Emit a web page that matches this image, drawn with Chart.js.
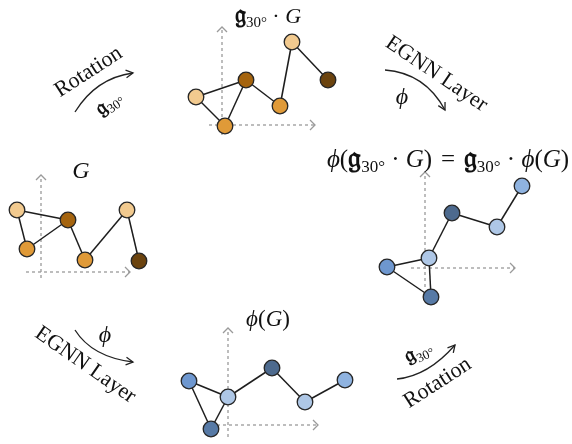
<!DOCTYPE html>
<html>
<head>
<meta charset="utf-8">
<script src="https://cdn.jsdelivr.net/npm/chart.js@4"></script>
<style>
  html, body { margin: 0; padding: 0; background: #fff; }
  #wrap { position: relative; width: 572px; height: 444px; overflow: hidden; }
  #c { position: absolute; left: 0; top: 0; }
  .lbl { position: absolute; transform-origin: center center; white-space: nowrap;
         font-family: "Liberation Serif", "DejaVu Serif", serif; color: #111; line-height: 1; }
  .it { font-style: italic; }
  .frak { font-family: "DejaVu Sans", "DejaVu Serif", "Noto Sans", serif; font-style: normal; font-weight: bold; font-size: 1.15em; }
  .sub { font-size: 0.68em; position: relative; top: 0.3em; }
  .op { margin: 0 0.25em; }
  .eq { margin: 0 0.35em; }
</style>
</head>
<body>
<div id="wrap">
  <canvas id="c" width="572" height="444"></canvas>
</div>
<script>
// ---- data: node coordinates of each graph ----
const graphG_x      = [17, 68, 27, 85, 127, 139];
const graphG_y      = [210, 220, 249, 260, 210, 261];
const graphRotG_x   = [196, 246, 225, 280, 292, 328];
const graphRotG_y   = [97, 80, 126, 106, 42, 80];
const graphPhiG_x   = [189, 228, 211, 272, 305, 345];
const graphPhiG_y   = [381, 397, 429, 368, 402, 380];
const graphPhiRot_x = [387, 429, 431, 452, 497, 522];
const graphPhiRot_y = [267, 258, 297, 213, 227, 186];
// edges (node index pairs), same topology in every graph
const edges = [[0,1],[0,2],[2,1],[1,3],[3,4],[4,5]];
// axis frames: [originX, originY, xStart, xEnd, yStart, yEnd]
const axisG      = [41, 272, 26, 130, 278, 175];
const axisRotG   = [222, 125, 209, 315, 135, 27];
const axisPhiG   = [228, 425, 217, 318, 437, 328];
const axisPhiRot = [425, 268, 411, 515, 287, 172];

// ---- styles ----
const orangeCols = ['#F2CA8F', '#A5640E', '#E09A38', '#E09A38', '#F2CA8F', '#6B430E'];
const blueCols   = ['#6E97CF', '#AEC7E6', '#577AA6', '#4D6A8E', '#AEC7E6', '#8FB3E0'];

function pts(xs, ys) { return xs.map((x, i) => ({x: x, y: ys[i]})); }

const graphs = [
  [graphG_x, graphG_y, orangeCols],
  [graphRotG_x, graphRotG_y, orangeCols],
  [graphPhiG_x, graphPhiG_y, blueCols],
  [graphPhiRot_x, graphPhiRot_y, blueCols]
];
const axes = [axisG, axisRotG, axisPhiG, axisPhiRot];

const datasets = [];
axes.forEach(a => {
  datasets.push({
    data: [{x: a[2], y: a[1]}, {x: a[3], y: a[1]}], showLine: true, borderColor: '#9a9a9a', borderWidth: 1.3,
    borderDash: [3, 3], pointRadius: 0, order: 3, clip: false
  });
  datasets.push({
    data: [{x: a[0], y: a[4]}, {x: a[0], y: a[5]}], showLine: true, borderColor: '#9a9a9a', borderWidth: 1.3,
    borderDash: [3, 3], pointRadius: 0, order: 3, clip: false
  });
});
graphs.forEach(([xs, ys]) => edges.forEach(([a, b]) => datasets.push({
  data: [{x: xs[a], y: ys[a]}, {x: xs[b], y: ys[b]}], showLine: true, borderColor: '#1e1e1e', borderWidth: 1.5,
  pointRadius: 0, order: 2, clip: false
})));
graphs.forEach(([xs, ys, cols]) => datasets.push({
  data: pts(xs, ys), showLine: false, pointRadius: 7.8, pointHoverRadius: 7.8,
  pointBackgroundColor: cols, pointBorderColor: '#262626', pointBorderWidth: 1.3, order: 1, clip: false
}));

// curved transformation arrows: [x0,y0, cx,cy, x1,y1]
const curves = [
  [75, 112, 96, 78, 133, 73],
  [385, 70, 425, 73, 445, 110],
  [75, 330, 92, 357, 133, 362],
  [397, 379, 428, 376, 455, 345]
];

const arrowPlugin = {
  id: 'arrows',
  afterDatasetsDraw(chart) {
    const ctx = chart.ctx, sx = chart.scales.x, sy = chart.scales.y;
    const P = (x, y) => [sx.getPixelForValue(x), sy.getPixelForValue(y)];
    ctx.save();
    ctx.strokeStyle = '#9a9a9a'; ctx.lineWidth = 1.3; ctx.setLineDash([]);
    axes.forEach(a => {
      const [hx, hy] = P(a[3], a[1]);
      ctx.beginPath(); ctx.moveTo(hx - 5, hy - 5); ctx.lineTo(hx, hy); ctx.lineTo(hx - 5, hy + 5); ctx.stroke();
      const [vx, vy] = P(a[0], a[5]);
      ctx.beginPath(); ctx.moveTo(vx - 5, vy + 5); ctx.lineTo(vx, vy); ctx.lineTo(vx + 5, vy + 5); ctx.stroke();
    });
    ctx.strokeStyle = '#222'; ctx.lineWidth = 1.3;
    curves.forEach(c => {
      const [x0, y0] = P(c[0], c[1]), [cx, cy] = P(c[2], c[3]), [x1, y1] = P(c[4], c[5]);
      ctx.beginPath(); ctx.moveTo(x0, y0); ctx.quadraticCurveTo(cx, cy, x1, y1); ctx.stroke();
      const ang = Math.atan2(y1 - cy, x1 - cx), L = 8, w = 0.5;
      ctx.beginPath();
      ctx.moveTo(x1 - L * Math.cos(ang - w), y1 - L * Math.sin(ang - w));
      ctx.lineTo(x1, y1);
      ctx.lineTo(x1 - L * Math.cos(ang + w), y1 - L * Math.sin(ang + w));
      ctx.stroke();
    });
    ctx.restore();
  }
};

new Chart(document.getElementById('c'), {
  type: 'scatter',
  data: { datasets },
  options: {
    responsive: false, animation: false, events: [],
    layout: { padding: 0, autoPadding: false },
    plugins: { legend: { display: false }, tooltip: { enabled: false } },
    scales: {
      x: { type: 'linear', min: 0, max: 572, display: false },
      y: { type: 'linear', min: 0, max: 444, reverse: true, display: false }
    }
  },
  plugins: [arrowPlugin]
});

// ---- text labels (real DOM text) ----
const G = '<span class="it">G</span>';
const PHI = '<span class="it">ϕ</span>';
const FR = '<span class="frak">𝔤</span><span class="sub">30°</span>';
const DOT = '<span class="op">·</span>';
const EQ = '<span class="eq">=</span>';
const labels = [
  {html: G, x: 81, y: 170, size: 24, rot: 0},
  {html: FR + DOT + G, x: 268, y: 15, size: 22, rot: 0},
  {html: PHI + '(' + G + ')', x: 268, y: 318, size: 23, rot: 0},
  {html: PHI + '(' + FR + DOT + G + ')' + EQ + FR + DOT + PHI + '(' + G + ')', x: 448, y: 157, size: 25, rot: 0},
  {html: 'Rotation', x: 88, y: 71, size: 22, rot: -33},
  {html: FR, x: 108, y: 102, size: 19, rot: -35},
  {html: 'EGNN Layer', x: 437, y: 73, size: 22, rot: 34},
  {html: PHI, x: 402, y: 96, size: 24, rot: 0},
  {html: 'EGNN Layer', x: 86, y: 364, size: 22, rot: 35},
  {html: PHI, x: 105, y: 334, size: 24, rot: 0},
  {html: 'Rotation', x: 437, y: 382, size: 22, rot: -33},
  {html: FR, x: 418, y: 351, size: 19, rot: -25}
];
const wrap = document.getElementById('wrap');
labels.forEach(l => {
  const d = document.createElement('div');
  d.className = 'lbl';
  d.innerHTML = l.html;
  d.style.fontSize = l.size + 'px';
  d.style.left = l.x + 'px';
  d.style.top = l.y + 'px';
  d.style.transform = 'translate(-50%, -50%) rotate(' + l.rot + 'deg)';
  wrap.appendChild(d);
});
</script>
</body>
</html>
